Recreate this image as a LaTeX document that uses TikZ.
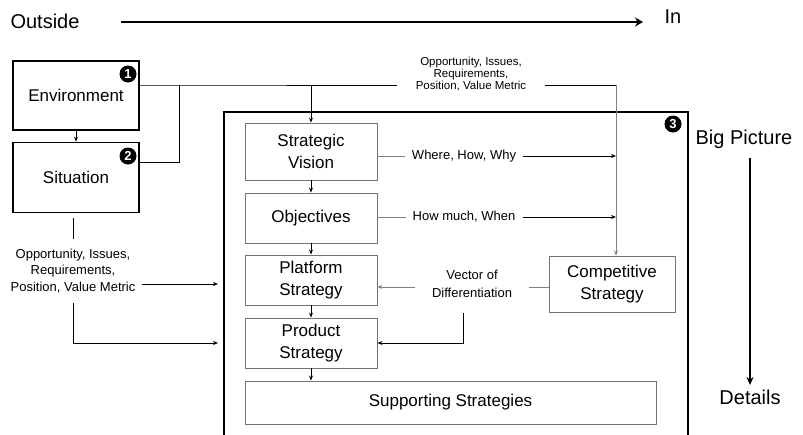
\documentclass[tikz,border=0pt]{standalone}
\usepackage{fontspec}
\setmainfont{Liberation Sans}
\usetikzlibrary{arrows.meta,positioning,calc}

\tikzset{
  outer/.style={draw=black,line width=1.6pt,minimum width=126pt,align=center,
    inner sep=0pt,font=\fontsize{17}{21}\selectfont},
  inner/.style={draw=black!55,line width=0.9pt,minimum width=132pt,align=center,
    inner sep=0pt,font=\fontsize{17}{22}\selectfont},
  badge/.style={circle,fill=black,text=white,inner sep=0pt,minimum size=17pt,
    font=\fontsize{13}{13}\selectfont\bfseries},
  big/.style={font=\fontsize{20}{22}\selectfont,inner sep=0pt},
  note/.style={font=\fontsize{13}{16.5}\selectfont,align=center,inner sep=0pt},
  tip/.style={-{Stealth[length=5pt,width=4pt]},line width=0.8pt},
  gtip/.style={tip,draw=black!50}
}

\begin{document}
\begin{tikzpicture}[x=1pt,y=-1pt]
\useasboundingbox (0,0) rectangle (803,434);
% Outside -> In
\node[big] (out) at (45,21) {Outside};
\node[big] (in) at (673,17) {In};
\coordinate (a0) at (121,22);
\coordinate (a1) at (643,22);
\draw[-{Stealth[length=8pt,width=9pt]},line width=2.3pt] (a0) -- (a1);
% Big Picture -> Details
\node[big] (bp) at (744,139) {Big Picture};
\node[big] (det) at (750,397) {Details};
\coordinate (d0) at (750,158);
\coordinate (d1) at (750,385);
\draw[-{Stealth[length=8pt,width=7pt]},line width=2.3pt] (d0) -- (d1);
% outer frame, open at the bottom
\draw[line width=2pt] (224,440) |- (688,112) -- (688,440);
\node[badge] (b3) at (673,124) {3};
% environment and situation
\node[outer,minimum height=69pt] (env) at (76,95.5) {Environment};
\node[outer,minimum height=70pt] (sit) at (76,177.5) {Situation};
\node[badge] (b1) at (128,74) {1};
\node[badge] (b2) at (128,156) {2};
\draw[tip] (env) -- (sit);
% strategy stack
\node[inner,minimum height=57pt] (vision) at (311,151.5) {Strategic\\Vision};
\node[inner,minimum height=50pt] (obj) at (311,218) {Objectives};
\node[inner,minimum height=50pt] (plat) at (311,280) {Platform\\Strategy};
\node[inner,minimum height=50pt] (prod) at (311,343) {Product\\Strategy};
\node[inner,minimum width=411pt,minimum height=43pt] (supp) at (450.5,402.5) {Supporting Strategies};
\node[inner,minimum width=126pt,minimum height=56pt] (comp) at (612,284) {Competitive\\Strategy};
\draw[tip] (vision) -- (obj);
\draw[tip] (obj) -- (plat);
\draw[tip] (plat) -- (prod);
\draw[tip] (prod.south) -- (prod.south |- supp.north);
% inputs from the top
\node[note,font=\fontsize{11.5}{12}\selectfont,inner xsep=19pt] (opp) at (471,74)
  {Opportunity, Issues,\\Requirements,\\Position, Value Metric};
\coordinate (j1) at (179,85);
\coordinate (c1) at (616,85);
\draw[line width=0.8pt] (env.east |- j1) -- (j1) -- (opp.west |- j1);
\draw[line width=0.8pt] (sit.east |- 0,162) -| (j1);
\draw[tip] (vision.north |- j1) -- (vision.north);
\draw[line width=0.8pt] (opp.east |- c1) -- (c1);
\draw[gtip] (c1) -- (c1 |- comp.north);
% where/how and how much/when
\node[note,inner xsep=7pt] (whw) at (464,156) {Where, How, Why};
\node[note,inner xsep=7pt] (hmw) at (464,217) {How much, When};
\draw[draw=black!50,line width=0.8pt] (vision.east |- whw) -- (whw.west);
\draw[tip] (whw.east) -- (c1 |- whw);
\draw[draw=black!50,line width=0.8pt] (obj.east |- hmw) -- (hmw.west);
\draw[tip] (hmw.east) -- (c1 |- hmw);
% vector of differentiation
\node[note,font=\fontsize{13}{18}\selectfont,inner xsep=17pt,inner ysep=10pt] (vod) at (472,284)
  {Vector of\\Differentiation};
\coordinate (v1) at (463,313);
\draw[draw=black!50,line width=0.8pt] (comp.west |- 0,287) -- (vod.east |- 0,287);
\draw[gtip] (vod.west |- 0,287) -- (plat.east |- 0,287);
\draw[tip] (v1) |- (prod.east);
% inputs from the left
\node[note,inner ysep=10pt] (oppl) at (73,271)
  {Opportunity, Issues,\\Requirements,\\Position, Value Metric};
\coordinate (bl) at (218,0);
\draw[line width=0.8pt] (73,218) -- (oppl.north -| 73,0);
\draw[tip] (oppl.east) ++(6,13) coordinate (o1) -- (o1 -| bl);
\draw[tip] (oppl.south -| 73,0) |- (prod -| bl);
\end{tikzpicture}
\end{document}
